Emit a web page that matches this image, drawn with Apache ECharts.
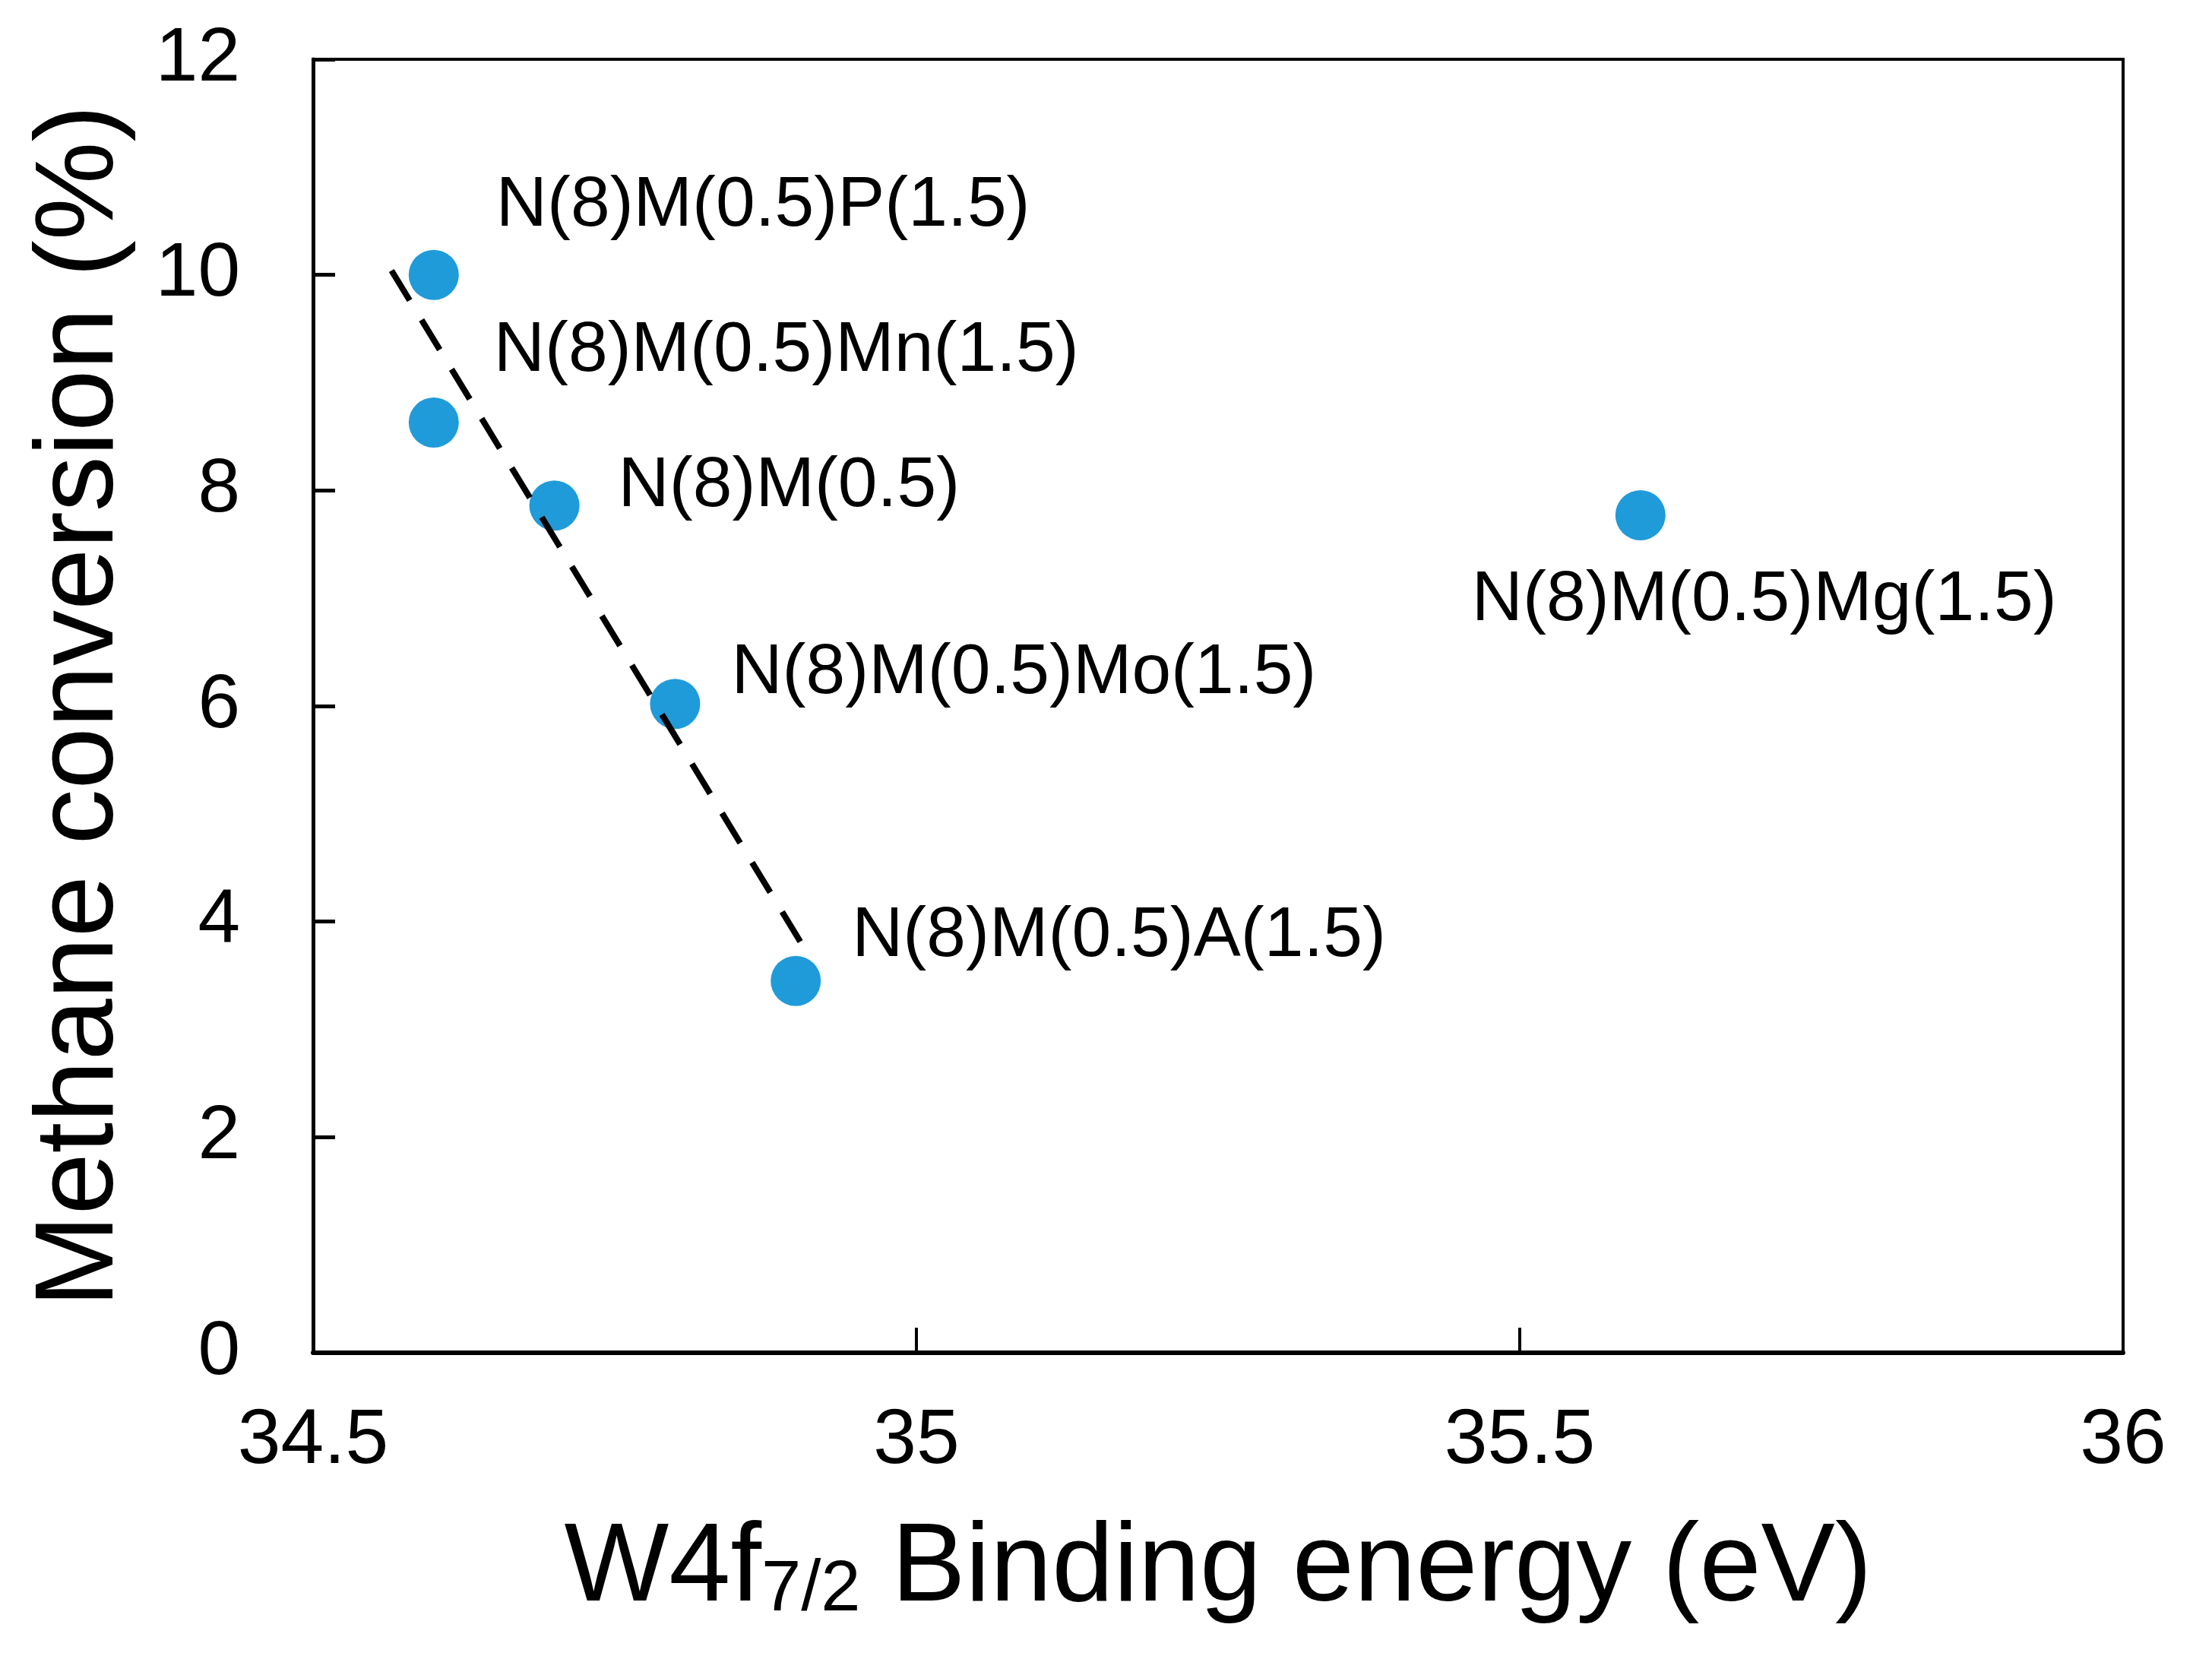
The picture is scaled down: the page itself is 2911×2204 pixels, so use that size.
<!DOCTYPE html>
<html>
<head>
<meta charset="utf-8">
<script src="https://cdn.jsdelivr.net/npm/echarts@6/dist/echarts.min.js"></script>
<style>
html,body{margin:0;padding:0;background:#fff;}
#chart{width:2911px;height:2204px;}
</style>
</head>
<body>
<div id="chart"></div>
<script>
// ---- data ----
var sampleNames = ['N(8)M(0.5)P(1.5)', 'N(8)M(0.5)Mn(1.5)', 'N(8)M(0.5)', 'N(8)M(0.5)Mo(1.5)', 'N(8)M(0.5)A(1.5)', 'N(8)M(0.5)Mg(1.5)'];
var bindingEnergy = [34.6, 34.6, 34.7, 34.8, 34.9, 35.6];
var methaneConversion = [10.0, 8.63, 7.86, 6.02, 3.45, 7.77];
var trendX = [34.565, 34.91];
var trendY = [10.04, 3.70];
var xTicks = [34.5, 35, 35.5, 36];
var yTicks = [0, 2, 4, 6, 8, 10, 12];

// ---- layout (label offsets in px relative to point centre) ----
var labelDx = [82, 79, 84, 74, 74, -222];
var labelDy = [-90, -94, -25, -40, -58, 112];

var FONT = "'Liberation Sans', Arial, Helvetica, sans-serif";

var scatterData = sampleNames.map(function (n, i) {
  return {
    name: n,
    value: [bindingEnergy[i], methaneConversion[i]],
    label: { offset: [labelDx[i], labelDy[i]] }
  };
});
var trendData = trendX.map(function (x, i) { return [x, trendY[i]]; });

var chart = echarts.init(document.getElementById('chart'), null, { renderer: 'canvas' });
chart.setOption({
  backgroundColor: '#ffffff',
  animation: false,
  grid: {
    left: 412, right: 117, top: 78, bottom: 424,
    show: true, borderColor: '#000', borderWidth: 4, backgroundColor: 'transparent'
  },
  xAxis: {
    type: 'value',
    min: xTicks[0], max: xTicks[xTicks.length - 1], interval: 0.5,
    axisLine: { show: true, onZero: false, lineStyle: { color: '#000', width: 6 } },
    axisTick: { show: true, inside: true, length: 33, lineStyle: { color: '#000', width: 4 } },
    axisLabel: { color: '#000', fontSize: 102, fontFamily: FONT, margin: 66 },
    splitLine: { show: false },
    name: '{a|W4f}{sub|7/2}{a| Binding energy (eV)}',
    nameLocation: 'middle',
    nameGap: 212,
    nameTextStyle: {
      rich: {
        a: { fontSize: 146, fontFamily: FONT, color: '#000', lineHeight: 148 },
        sub: { fontSize: 94, fontFamily: FONT, color: '#000', lineHeight: 60, verticalAlign: 'bottom' }
      }
    }
  },
  yAxis: {
    type: 'value',
    min: yTicks[0], max: yTicks[yTicks.length - 1], interval: 2,
    axisLine: { show: true, onZero: false, lineStyle: { color: '#000', width: 5 } },
    axisTick: { show: true, inside: true, length: 29, lineStyle: { color: '#000', width: 5 } },
    axisLabel: { color: '#000', fontSize: 100, fontFamily: FONT, margin: 96 },
    splitLine: { show: false },
    name: 'Methane conversion (%)',
    nameLocation: 'middle',
    nameGap: 231,
    nameTextStyle: { color: '#000', fontSize: 146, fontFamily: FONT }
  },
  series: [
    {
      type: 'scatter',
      data: scatterData,
      symbol: 'circle',
      symbolSize: 66,
      itemStyle: { color: '#1F9BDA', opacity: 1 },
      z: 2,
      label: {
        show: true,
        position: 'inside',
        align: 'left',
        verticalAlign: 'middle',
        formatter: function (p) { return p.name; },
        color: '#000',
        opacity: 1,
        textBorderWidth: 0,
        fontSize: 93,
        fontFamily: FONT
      }
    },
    {
      type: 'line',
      data: trendData,
      symbol: 'none',
      z: 3,
      lineStyle: { color: '#000', width: 8, type: [46, 30] },
      silent: true
    }
  ]
});
</script>
</body>
</html>
